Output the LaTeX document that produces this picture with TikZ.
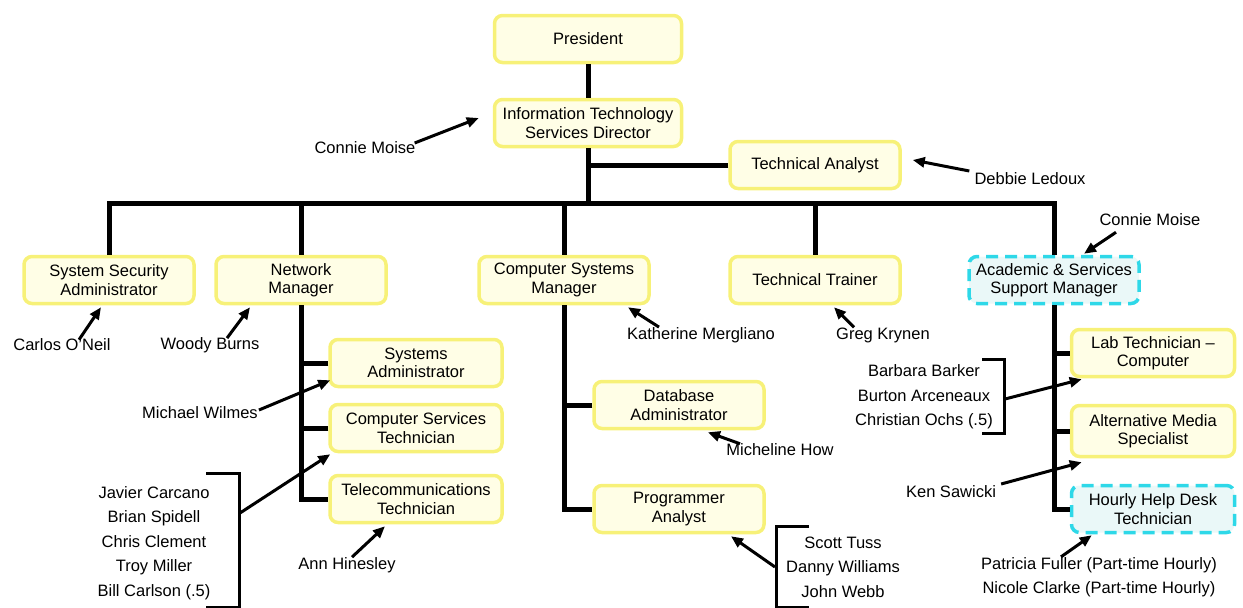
\documentclass[tikz,border=0pt]{standalone}
\usepackage{fontspec}
\setmainfont{Liberation Sans}
\usetikzlibrary{arrows.meta,calc}

\definecolor{boxline}{RGB}{247,241,120}
\definecolor{boxfill}{RGB}{255,254,230}
\definecolor{cyanline}{RGB}{46,216,232}
\definecolor{cyanfill}{RGB}{234,248,248}

\tikzset{
  post/.style={draw=boxline, line width=3.5pt, fill=boxfill, rounded corners=8pt,
    minimum width=170pt, minimum height=47pt, align=center, inner sep=2pt},
  openpost/.style={post, draw=cyanline, fill=cyanfill, dash pattern=on 12pt off 7pt},
  tree/.style={line width=5pt},
  pointer/.style={line width=3pt, -{Triangle[length=12pt,width=10pt]}},
  person/.style={inner sep=1pt},
  crew/.style={inner sep=1pt, align=center, font=\fontsize{16.5}{24.5}\selectfont},
  bracket/.style={line width=3pt},
}

\begin{document}
\begin{tikzpicture}[x=1pt,y=-1pt,font=\fontsize{16.5}{18.5}\selectfont]
\useasboundingbox (0,0) rectangle (1243,608);

% posts
\node[post, minimum width=187pt] (pres) at (588,39) {President};
\node[post, minimum width=187pt] (dir) at (588,123) {Information Technology\\Services Director};
\node[post] (ta) at (815,165) {Technical Analyst};
\node[post] (ssa) at (109,280) {System Security\\Administrator};
\node[post] (netm) at (301,280) {Network\\Manager};
\node[post] (csm) at (564,280) {Computer Systems\\Manager};
\node[post] (trainer) at (815,280) {Technical Trainer};
\node[openpost] (asm) at (1054,280) {Academic \& Services\\Support Manager};
\node[post, minimum width=172pt] (sysadm) at (416,363) {Systems\\Administrator};
\node[post, minimum width=172pt] (cst) at (416,428) {Computer Services\\Technician};
\node[post, minimum width=172pt] (telecom) at (416,499) {Telecommunications\\Technician};
\node[post] (dba) at (679,405) {Database\\Administrator};
\node[post] (prog) at (679,509) {Programmer\\Analyst};
\node[post, minimum width=163pt] (lab) at (1153,353) {Lab Technician --\\Computer};
\node[post, minimum width=163pt, minimum height=51pt] (altmed) at (1153,431) {Alternative Media\\Specialist};
\node[openpost, minimum width=163pt] (hourly) at (1153,509) {Hourly Help Desk\\Technician};

% tree
\coordinate (bus) at (588,203);
\draw[tree] (pres) -- (dir);
\draw[tree] (dir) -- (bus);
\draw[tree] (ta.west) -- (ta.west -| dir.south);
\draw[tree] (ssa.north) |- (bus) -| (asm.north);
\foreach \n in {netm,csm,trainer}
  \draw[tree] (\n.north) -- (\n.north |- bus);
\draw[tree] (netm.south) |- (telecom.west);
\foreach \n in {sysadm,cst}
  \draw[tree] (\n.west) -- (\n.west -| netm.south);
\draw[tree] (csm.south) |- (prog.west);
\draw[tree] (dba.west) -- (dba.west -| csm.south);
\draw[tree] (asm.south) |- (hourly.west);
\foreach \n in {lab,altmed}
  \draw[tree] (\n.west) -- (\n.west -| asm.south);

% people
\node[person] (moise) at (365,148) {Connie Moise};
\node[person] (ledoux) at (1030,179) {Debbie Ledoux};
\node[person] (moise2) at (1150,220) {Connie Moise};
\node[person] (oneil) at (62,345) {Carlos O'Neil};
\node[person] (burns) at (210,345) {Woody Burns};
\node[person] (wilmes) at (200,413) {Michael Wilmes};
\node[person] (hinesley) at (347,565) {Ann Hinesley};
\node[person] (mergliano) at (701,335) {Katherine Mergliano};
\node[person] (krynen) at (883,335) {Greg Krynen};
\node[person] (how) at (780,450) {Micheline How};
\node[person] (sawicki) at (951,492) {Ken Sawicki};
\node[crew] (hourlycrew) at (1099,577) {Patricia Fuller (Part-time Hourly)\\Nicole Clarke (Part-time Hourly)};
\node[crew] (techcrew) at (154,543) {Javier Carcano\\Brian Spidell\\Chris Clement\\Troy Miller\\Bill Carlson (.5)};
\node[crew] (progcrew) at (843,567) {Scott Tuss\\Danny Williams\\John Webb};
\node[crew] (labcrew) at (924,397) {Barbara Barker\\Burton Arceneaux\\Christian Ochs (.5)};

% brackets
\draw[bracket] (206,473) -| (239,607) -- (206,607);
\draw[bracket] (809,526) -| (776,607) -- (809,607);
\draw[bracket] (982,359) -| (1004,433) -- (982,433);
\coordinate (techbr) at (240,513);
\coordinate (progbr) at (775,567);
\coordinate (labbr) at (1005,399);

% pointers
\draw[pointer] ($(moise.east)+(-2,-5)$) -- ($(dir.west)+(-14,-5)$);
\draw[pointer] ($(ledoux.west)+(-4,-8)$) -- ($(ta.east)+(11,-5)$);
\draw[pointer] ($(moise2.south)+(-34,5)$) -- ($(asm.north)+(30,-1)$);
\draw[pointer] ($(oneil.north)+(17,2)$) -- ($(ssa.south)+(-8,2)$);
\draw[pointer] ($(burns.north)+(17,2)$) -- ($(netm.south)+(-51,2)$);
\draw[pointer] ($(wilmes.east)+(0,-3)$) -- ($(sysadm.south west)+(2,-8)$);
\draw[pointer] (techbr) -- ($(cst.south west)+(2,1)$);
\draw[pointer] ($(hinesley.north)+(5,1)$) -- ($(telecom.south)+(-31,2)$);
\draw[pointer] ($(mergliano.north)+(-42,1)$) -- ($(csm.south)+(64,2)$);
\draw[pointer] ($(krynen.north)+(-29,1)$) -- ($(trainer.south)+(19,2)$);
\draw[pointer] ($(how.north)+(-40,1)$) -- ($(dba.south)+(29,2)$);
\draw[pointer] (progbr) -- ($(prog.south)+(52,2)$);
\draw[pointer] (labbr) -- ($(lab.south west)+(12,1)$);
\draw[pointer] ($(sawicki.east)+(4,-8)$) -- ($(altmed.south west)+(12,4)$);
\draw[pointer] ($(hourlycrew.north)+(-38,1)$) -- ($(hourly.south west)+(22,1)$);
\end{tikzpicture}
\end{document}
